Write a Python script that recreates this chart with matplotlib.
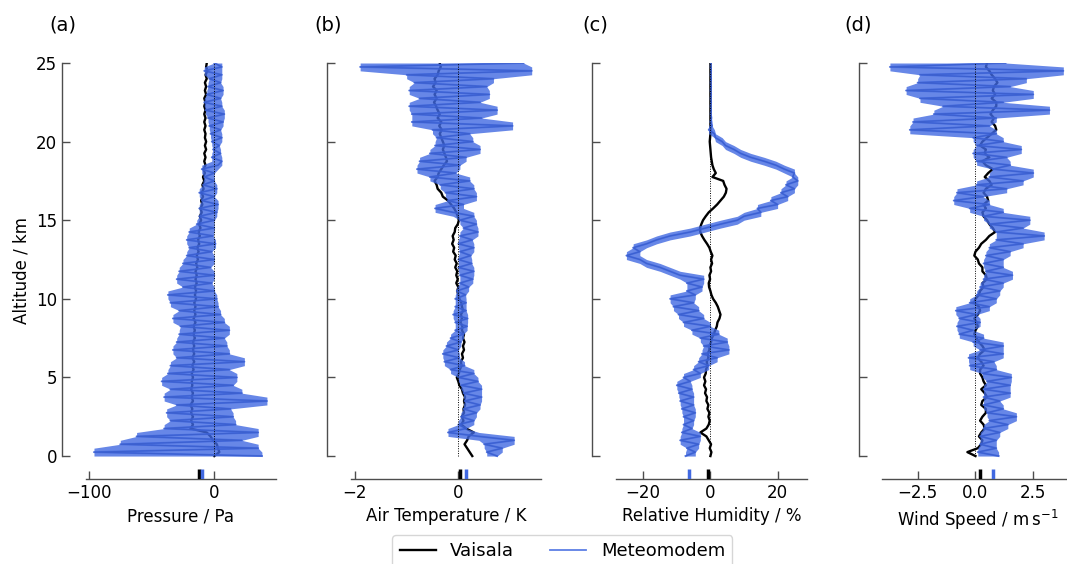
import numpy as np
import matplotlib
matplotlib.use("Agg")
import matplotlib.pyplot as plt

# ---------------- data (altitude 0..25 km, 0.25 km steps) ----------------
pressure_vaisala = [0, 4, 3, 2, -1, -3, -6, -19, -17, -18.5,
                    -17, -18.5, -17.5, -19, -17, -18, -17, -18.5, -17.5, -18,
                    -17, -18, -16.5, -17.5, -16, -17.5, -16, -17, -16, -17,
                    -15.5, -16.5, -15.5, -16.5, -15, -16.5, -15, -16, -15, -16,
                    -14.5, -15.5, -14.5, -15.5, -14, -15, -14, -15, -13.5, -14.5,
                    -13, -14, -12.5, -13.5, -12, -13, -11.5, -12.5, -11, -12,
                    -10.5, -11.5, -10, -11, -9.5, -10.5, -9, -10, -8.5, -9.5,
                    -8, -9, -7.5, -8.5, -7, -8, -7, -8, -6.5, -7.5,
                    -6.5, -7.5, -7, -8, -7, -8, -7, -8, -7, -8,
                    -7, -8, -6.5, -7.5, -6.5, -7.5, -6, -7, -5.5, -6.5,
                    -6]
pressure_meteomodem = [38, -96, 35, -75, 22, -62, 35, -40, 17, -35,
                       15, -38, 13, -30, 42, -40, 22, -35, 15, -42,
                       18, -37, 12, -35, 24, -30, 12, -33, 10, -30,
                       8, -28, 12, -27, 8, -33, 5, -28, 3, -35,
                       2, -37, 0, -25, -2, -30, 0, -28, -3, -25,
                       0, -22, -2, -20, 1, -22, -1, -20, 0, -14,
                       0, -12, 2, -12, 3, -10, 0, -12, 2, -9,
                       0, -8, 0, -10, 3, 6, -2, 5, -1, 4,
                       -2, 6, -3, 5, -4, 7, -5, 8, -7, 6,
                       -8, 5, -6, 7, -5, 5, -4, 6, -8, 6,
                       0]

temp_vaisala = [0.27, 0.22, 0.17, 0.12, 0.17, 0.2, 0.3, 0.15, 0.06, 0.1,
                0.07, 0.11, 0.1, 0.13, 0.11, 0.13, 0.09, 0.07, 0.02, 0.0,
                -0.03, 0.01, 0.03, 0.06, 0.05, 0.09, 0.07, 0.11, 0.09, 0.12,
                0.09, 0.11, 0.07, 0.08, 0.04, 0.07, 0.05, 0.09, 0.07, 0.06,
                0.02, 0.0, -0.02, 0.0, -0.04, -0.01, -0.04, -0.02, -0.06, -0.03,
                -0.07, -0.05, -0.1, -0.08, -0.12, -0.09, -0.11, -0.07, -0.06, -0.01,
                0.01, -0.01, -0.04, -0.08, -0.14, -0.2, -0.3, -0.33, -0.4, -0.42,
                -0.46, -0.4, -0.38, -0.33, -0.28, -0.22, -0.24, -0.27, -0.3, -0.27,
                -0.3, -0.33, -0.36, -0.32, -0.37, -0.33, -0.4, -0.36, -0.4, -0.43,
                -0.47, -0.42, -0.46, -0.42, -0.49, -0.44, -0.46, -0.4, -0.38, -0.34,
                -0.36]
temp_meteomodem = [0.75, 0.55, 0.85, 0.5, 1.08, 0.4, -0.2, 0.15, 0.0, 0.3,
                   0.05, 0.35, 0.1, 0.42, 0.12, 0.45, 0.1, 0.45, 0.05, 0.38,
                   0.0, 0.3, -0.15, 0.12, -0.27, 0.02, -0.3, 0.0, -0.23, 0.05,
                   -0.15, 0.1, -0.06, 0.17, -0.06, 0.18, -0.1, 0.15, -0.06, 0.15,
                   -0.06, 0.14, -0.03, 0.2, 0.03, 0.28, 0.03, 0.3, 0.0, 0.26,
                   0.0, 0.24, 0.03, 0.3, 0.0, 0.27, 0.03, 0.38, 0.1, 0.35,
                   0.03, 0.3, -0.1, -0.45, 0.1, -0.2, 0.35, -0.25, 0.3, -0.35,
                   0.22, -0.55, -0.05, -0.8, 0.03, -0.75, 0.15, -0.55, 0.42, -0.45,
                   0.28, -0.42, 0.22, -0.5, 1.05, -0.9, 0.45, -0.9, 0.75, -0.95,
                   0.42, -0.75, 0.6, -0.95, 0.55, -0.85, 0.68, -1.0, 1.42, -1.9,
                   1.26]

rh_vaisala = [0, 0.3, -0.2, 0.2, -0.5, -1.2, -3, -1.2, -0.5, -0.2,
              -0.6, -0.3, -0.9, -0.6, -1.2, -1.0, -1.6, -1.3, -1.9, -1.5,
              -1.9, -1.4, -1.3, -0.9, -1.1, -0.6, -0.8, -0.3, -0.3, 0.2,
              0.4, 1.0, 1.4, 1.9, 2.1, 2.7, 3.0, 2.6, 2.2, 1.6,
              0.8, 0.3, 0.0, -0.4, -0.5, -0.1, -0.3, 0.2, 0.0, 0.5,
              0.2, 0.6, 0.1, -0.3, -1.0, -1.8, -2.5, -3.0, -3.1, -2.7,
              -2.2, -1.4, -0.5, 0.8, 2.0, 3.0, 4.0, 4.6, 4.8, 4.2,
              3.8, 0.6, 1.6, 1.0, 0.6, 0.4, 0.2, 0.1, 0.0, -0.1,
              -0.2, -0.1, 0.0, 0.0, 0.0, 0.0, 0.0, 0.0, 0.0, 0.0,
              0.0, 0.0, 0.0, 0.0, 0.0, 0.0, 0.0, 0.0, 0.0, 0.0,
              0.0]
rh_meteomodem = [-7.4, -4.5, -7, -3.5, -9, -3, -8.5, -5.5, -8, -5,
                 -8, -4.5, -8.5, -5, -9, -5, -9.4, -5.5, -10, -6,
                 -8, -3, -5, -0.5, -3.5, 2, -2.5, 5.5, -2, 5,
                 -3, 2.5, -5.5, 0, -8, -2, -9.5, -3.5, -11, -5,
                 -12, -4.5, -7, -2.5, -7, -2, -9, -12, -15, -19,
                 -21, -25, -21, -23, -19, -16, -12, -6, -1.5, 3,
                 8, 10, 15, 14, 20, 18, 23, 21, 25, 22.5,
                 26, 24.5, 25, 22, 19.5, 16, 12, 9, 7, 4.5,
                 3.5, 1.5, 1.2, -0.5, 0.5, 0.0, 0.3, 0.1, 0.2, 0.1,
                 0.2, 0.1, 0.2, 0.1, 0.2, 0.1, 0.2, 0.1, 0.2, 0.1,
                 0.15]

wind_vaisala = [0.0, -0.35, 0.1, 0.25, 0.3, 0.15, 0.25, 0.4, 0.35, 0.2,
                0.3, 0.45, 0.45, 0.25, 0.3, 0.5, 0.4, 0.25, 0.45, 0.35,
                0.3, 0.2, 0.2, 0.35, 0.25, 0.1, 0.2, 0.4, 0.3, 0.15,
                0.05, -0.05, 0.0, 0.1, 0.05, -0.05, 0.1, 0.2, 0.15, -0.05,
                0.0, 0.15, 0.2, 0.35, 0.3, 0.5, 0.45, 0.3, 0.3, 0.15,
                0.1, -0.05, 0.0, 0.15, 0.25, 0.45, 0.6, 0.85, 0.75, 0.6,
                0.5, 0.35, 0.3, 0.45, 0.35, 0.55, 0.5, 0.35, 0.45, 0.7,
                0.6, 0.4, 0.55, 0.75, 0.45, 0.3, 0.6, 0.4, 0.45, 0.2,
                0.3, 0.5, 0.7, 0.9, 0.85, 0.7, 0.8, 0.65, 0.75, 0.9,
                0.9, 0.7, 0.85, 0.75, 0.8, 0.95, 0.85, 0.7, 0.6, 0.45,
                0.5]
wind_meteomodem = [1.0, 0.1, 0.9, 0.2, 0.9, 0.2, 1.05, 0.35, 1.4, 0.6,
                   1.77, 0.5, 1.2, 0.35, 1.05, 0.35, 1.5, 0.35, 1.5, 0.5,
                   1.55, 0.3, 0.9, -0.25, 0.8, -0.3, 1.2, 0.2, 1.2, -0.1,
                   0.35, -0.7, -0.1, -0.8, 0.2, -0.7, 0.05, -0.85, 0.6, -0.25,
                   0.9, 0.05, 1.05, 0.2, 1.2, 0.35, 1.6, 0.45, 1.2, 0.35,
                   1.2, 0.45, 1.5, 0.6, 2.06, 0.9, 2.97, 0.9, 2.06, 0.6,
                   2.35, 0.35, 1.2, -0.25, 0.6, -0.94, 0.33, -0.8, 1.35, 0.05,
                   2.06, 0.6, 2.5, 0.75, 1.5, 0.05, 1.35, -0.1, 1.98, 0.05,
                   1.2, -0.1, 0.9, -2.84, 0.6, -2.7, 0.9, -1.8, 3.2, -1.4,
                   1.2, -2.4, 2.5, -3.0, 1.5, -2.5, 2.2, -2.4, 3.8, -3.7,
                   1.3]

mean_vaisala = [-12.5, 0.03, -0.7, 0.2]
mean_meteomodem = [-10.0, 0.15, -6.5, 0.76]

panel_letters = ["(a)", "(b)", "(c)", "(d)"]
x_labels = ["Pressure / Pa", "Air Temperature / K", "Relative Humidity / %",
            r"Wind Speed / m$\,$s$^{-1}$"]
x_ticks = [[-100, 0], [-2, 0], [-20, 0, 20], [-2.5, 0.0, 2.5]]
x_ticklabels = [["\u2212100", "0"], ["\u22122", "0"], ["\u221220", "0", "20"],
                ["\u22122.5", "0.0", "2.5"]]
y_ticks = [0, 5, 10, 15, 20, 25]
series_names = ["Vaisala", "Meteomodem"]


def local_envelope(vals):
    """Local min / max of each reading and its two neighbours (spread of the noisy profile)."""
    a = np.asarray(vals, dtype=float)
    p = np.concatenate([a[:1], a, a[-1:]])
    stack = np.vstack([p[:-2], p[1:-1], p[2:]])
    return stack.min(axis=0), stack.max(axis=0)


# ---------------- layout ----------------
W, H = 1067, 564
fig = plt.figure(figsize=(W / 100, H / 100), dpi=100)
blue = "royalblue"
dark_blue = "#2d4db5"

vaisala_all = [pressure_vaisala, temp_vaisala, rh_vaisala, wind_vaisala]
meteo_all = [pressure_meteomodem, temp_meteomodem, rh_meteomodem, wind_meteomodem]
xlims = [(-102.6, 49.4), (-2.083, 1.604), (-28.1, 28.6), (-4.03, 4.21)]
lefts_px = [85.7, 350.7, 616.0, 882.3]
ax_w = 190.5 / W
ax_b = (H - 479) / H
ax_h = (479 - 63) / H
ylim = (-1.46, 25.0)
spine_px = [62, 327, 594, 857]

handles = []
for i in range(4):
    ax = fig.add_axes([lefts_px[i] / W, ax_b, ax_w, ax_h])
    v = np.array(vaisala_all[i], dtype=float)
    m = np.array(meteo_all[i], dtype=float)
    alt_v = np.linspace(0, 25, len(v))
    alt_m = np.linspace(0, 25, len(m))

    h1, = ax.plot(v, alt_v, color="k", lw=1.7, zorder=2)

    mlo, mhi = local_envelope(m)
    ax.fill_betweenx(alt_m, mlo, mhi, color=blue, alpha=0.8, lw=0, zorder=3)
    ax.plot(m, alt_m, color=blue, lw=1.4, alpha=0.85, zorder=3)
    ax.plot(m, alt_m, color=dark_blue, lw=0.8, alpha=0.4, zorder=3)
    h2, = ax.plot([], [], color=blue, lw=1.3, alpha=0.85)
    if i == 0:
        handles = [h1, h2]
    ax.vlines(0, 0, 25, colors="k", linestyles=(0, (1, 1.5)), lw=0.7, zorder=4)
    ax.vlines(mean_vaisala[i], ylim[0], -0.8, colors="k", lw=2.5, zorder=4)
    ax.vlines(mean_meteomodem[i], ylim[0], -0.8, colors=blue, lw=2.5, zorder=4)

    ax.set_xlim(*xlims[i])
    ax.set_ylim(*ylim)
    for s in ["top", "right"]:
        ax.spines[s].set_visible(False)
    ax.spines["left"].set_position(("outward", 17))
    ax.spines["left"].set_bounds(0, 25)
    for s in ["left", "bottom"]:
        ax.spines[s].set_color("0.3")
        ax.spines[s].set_linewidth(1.0)
    ax.set_yticks(y_ticks)
    ax.set_xticks(x_ticks[i])
    ax.set_xticklabels(x_ticklabels[i])
    ax.tick_params(direction="in", length=6, width=1.0, color="0.3", labelsize=12)
    if i == 0:
        ax.set_ylabel("Altitude / km", fontsize=12)
    else:
        ax.set_yticklabels([])
    ax.set_xlabel(x_labels[i], fontsize=12)
    fig.text((spine_px[i] + 1) / W, 1 - 25 / H, panel_letters[i], fontsize=14,
             ha="center", va="center")

fig.legend(handles, series_names, loc="upper center", ncol=2,
           bbox_to_anchor=(0.527, (H - 535) / H), borderaxespad=0,
           fontsize=13, frameon=True)

fig.savefig("out.png", dpi=100)
